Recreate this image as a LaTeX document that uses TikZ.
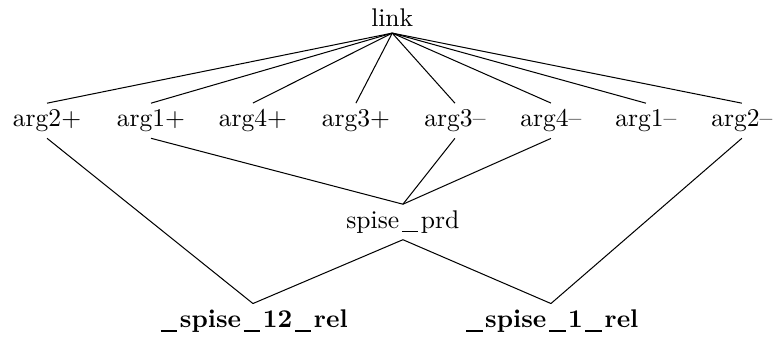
\documentclass[tikz,border=0pt]{standalone}
\newcommand{\usc}{\kern.1em\rule[-.15em]{.65em}{.05em}\kern.1em}
\begin{document}
\begin{tikzpicture}[inner sep=2.3pt, rel/.style={font=\bfseries}]
	\useasboundingbox (0,0) rectangle (10.65,-4.67);
	\node (link) at (5.39,-0.245) {link};
	\node (a2p) at (0.646,-1.659)  {arg2+};
	\node (a1p) at (2.075,-1.659)  {arg1+};
	\node (a4p) at (3.476,-1.659)  {arg4+};
	\node (a3p) at (4.891,-1.659)  {arg3+};
	\node (a3m) at (6.252,-1.659)  {arg3--};
	\node (a4m) at (7.571,-1.659)  {arg4--};
	\node (a1m) at (8.876,-1.659)  {arg1--};
	\node (a2m) at (10.195,-1.659) {arg2--};
	\node (prd) at (5.537,-3.05)   {spise\usc prd};
	\node[rel] (rel12) at (3.476,-4.415) {\usc spise\usc 12\usc rel};
	\node[rel] (rel1)  at (7.571,-4.415) {\usc spise\usc 1\usc rel};
	\foreach \a in {a2p,a1p,a4p,a3p,a3m,a4m,a1m,a2m}
		\draw (link.south) -- (\a.north);
	\draw (a1p.south) -- (prd.north);
	\draw (a3m.south) -- (prd.north);
	\draw (a4m.south) -- (prd.north);
	\draw (a2p.south) -- (rel12.north);
	\draw (a2m.south) -- (rel1.north);
	\draw (prd.south) -- (rel12.north);
	\draw (prd.south) -- (rel1.north);
\end{tikzpicture}
\end{document}
